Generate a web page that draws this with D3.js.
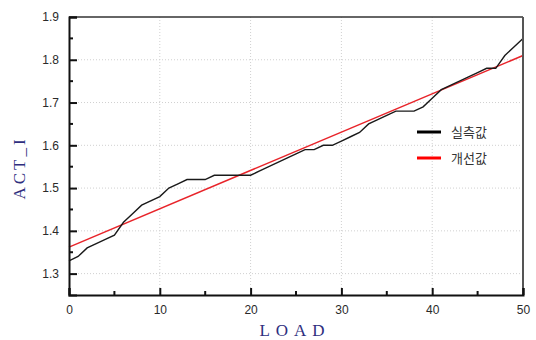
<!DOCTYPE html>
<html><head><meta charset="utf-8">
<script src="https://cdn.jsdelivr.net/npm/d3@7"></script>
<style>body{margin:0;background:#fff}</style>
</head><body>
<svg id="c" width="536" height="340"></svg>
<script>
const loads = d3.range(0, 51);
const measured = [1.33,1.34,1.36,1.37,1.38,1.39,1.42,1.44,1.46,1.47,1.48,1.50,1.51,1.52,1.52,1.52,1.53,1.53,1.53,1.53,1.53,1.54,1.55,1.56,1.57,1.58,1.59,1.59,1.60,1.60,1.61,1.62,1.63,1.65,1.66,1.67,1.68,1.68,1.68,1.69,1.71,1.73,1.74,1.75,1.76,1.77,1.78,1.78,1.81,1.83,1.85];
const fitX = [0, 50];
const fitY = [1.362, 1.810];
const xTicks = [0,10,20,30,40,50];
const yTicks = [1.3,1.4,1.5,1.6,1.7,1.8,1.9];
const seriesNames = ["실측값","개선값"];

const svg = d3.select("#c");
const L=69,R=523,T=17,B=295;
const x = d3.scaleLinear().domain([0,50]).range([L,R]);
const y = d3.scaleLinear().domain([1.25,1.9]).range([B,T]);

// grid
const g = svg.append("g");
g.selectAll(".gx").data(xTicks.slice(1,-1)).enter().append("line")
 .attr("x1",d=>x(d)).attr("x2",d=>x(d)).attr("y1",T).attr("y2",B)
 .attr("stroke","#d0d0d0").attr("stroke-dasharray","1,2");
g.selectAll(".gy").data(yTicks.slice(0,-1)).enter().append("line")
 .attr("y1",d=>y(d)).attr("y2",d=>y(d)).attr("x1",L).attr("x2",R)
 .attr("stroke","#d0d0d0").attr("stroke-dasharray","1,2");

// lines
const line = d3.line().x(d=>x(d[0])).y(d=>y(d[1]));
svg.append("path").datum(fitX.map((v,i)=>[v,fitY[i]])).attr("d",line)
 .attr("fill","none").attr("stroke","#e8242a").attr("stroke-width",1.5);
svg.append("path").datum(loads.map((v,i)=>[v,measured[i]])).attr("d",line)
 .attr("fill","none").attr("stroke","#1a1a1a").attr("stroke-width",1.4);

// frame
svg.append("line").attr("x1",L).attr("x2",R).attr("y1",T).attr("y2",T).attr("stroke","#333").attr("stroke-width",1.5);
svg.append("line").attr("x1",R).attr("x2",R).attr("y1",T).attr("y2",B).attr("stroke","#555").attr("stroke-width",2);

// axes
const xAxis = d3.axisBottom(x).tickValues(xTicks).tickSize(-7).tickPadding(10).tickFormat(d3.format("d"));
const yAxis = d3.axisLeft(y).tickValues(yTicks).tickSize(-8).tickPadding(10).tickFormat(d3.format(".1f"));
const gx = svg.append("g").attr("transform",`translate(0,${B})`).call(xAxis);
const gy = svg.append("g").attr("transform",`translate(${L},0)`).call(yAxis);
[gx,gy].forEach(a=>{
  a.select(".domain").attr("stroke","#111").attr("stroke-width",2);
  a.selectAll(".tick line").attr("stroke","#111").attr("stroke-width",2);
  a.selectAll("text").attr("font-family","Liberation Sans, Arial, sans-serif").attr("font-size",12).attr("fill","#2a2a2a");
});
// minor ticks
svg.selectAll(".mx").data([5,15,25,35,45]).enter().append("line")
 .attr("x1",d=>x(d)).attr("x2",d=>x(d)).attr("y1",B).attr("y2",B-4).attr("stroke","#111").attr("stroke-width",2);
svg.selectAll(".my").data([1.35,1.45,1.55,1.65,1.75,1.85]).enter().append("line")
 .attr("y1",d=>y(d)).attr("y2",d=>y(d)).attr("x1",L).attr("x2",L+4).attr("stroke","#111").attr("stroke-width",2);

// axis titles
svg.append("text").attr("x",295).attr("y",336).attr("text-anchor","middle")
 .attr("font-family","Liberation Serif, Times New Roman, serif").attr("font-size",17)
 .attr("letter-spacing",6).attr("fill","#2e2e7e").text("LOAD");
svg.append("text").attr("transform","translate(25,168) rotate(-90)").attr("text-anchor","middle")
 .attr("font-family","Liberation Serif, Times New Roman, serif").attr("font-size",17)
 .attr("letter-spacing",3).attr("fill","#2e2e7e").text("ACT_I");

// legend
const colors=["#000","#ff0000"];
const lg = svg.append("g");
seriesNames.forEach((n,i)=>{
  const yy = 132 + i*26;
  lg.append("line").attr("x1",417).attr("x2",441).attr("y1",yy).attr("y2",yy).attr("stroke",colors[i]).attr("stroke-width",3);
  lg.append("text").attr("x",451).attr("y",yy+4.5).attr("font-family","Noto Sans CJK KR, sans-serif")
   .attr("font-size",13).attr("fill","#333").text(n);
});
</script>
</body></html>
